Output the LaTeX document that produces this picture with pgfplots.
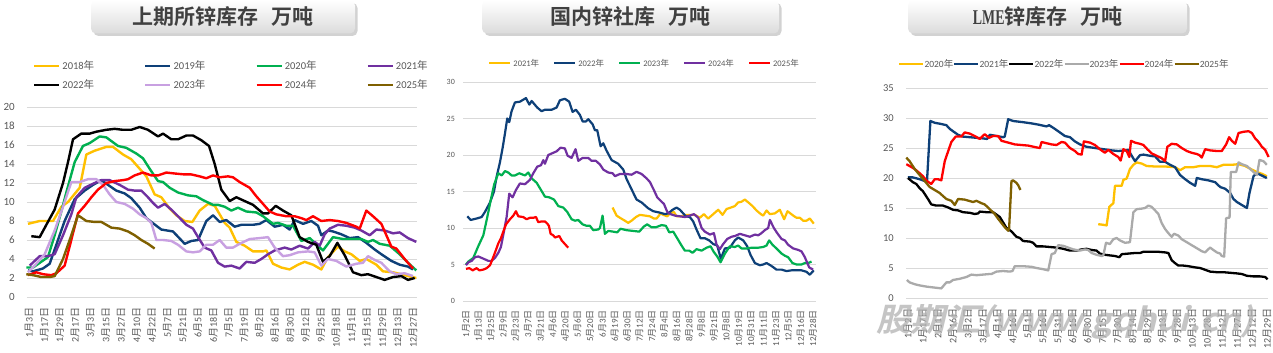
\documentclass[border=0pt]{standalone}
\usepackage{pgfplots}
\pgfplotsset{compat=1.18}
\usepackage{fontspec}
\usepackage{graphicx}
\setmainfont{Carlito}
\newfontfamily\cjk{Noto Sans CJK SC}
\newfontfamily\cjkb{Noto Sans CJK SC Bold}
\newfontfamily\wmfont{Noto Sans CJK SC Bold}[FakeSlant=0.22]
\newfontfamily\serifb{Liberation Serif Bold}
\usetikzlibrary{shadows}
\definecolor{c18}{RGB}{255,192,0}
\definecolor{c19}{RGB}{14,64,120}
\definecolor{c20}{RGB}{0,176,80}
\definecolor{c21}{RGB}{112,48,160}
\definecolor{c23}{RGB}{200,160,225}
\definecolor{c24}{RGB}{255,0,0}
\definecolor{c25}{RGB}{127,96,0}
\definecolor{cgray}{RGB}{170,170,170}
\definecolor{txt}{RGB}{89,89,89}
\definecolor{gridc}{RGB}{217,217,217}
\definecolor{ttl}{RGB}{64,64,64}
\newcommand\md[2]{#1{\cjk 月}#2{\cjk 日}}
\newcommand\yr[1]{#1{\cjk 年}}
\newcommand\fs[1]{\fontsize{#1}{#1}\selectfont}
\pgfplotsset{
  base/.style={
    scale only axis, clip=false, anchor=south west,
    axis line style={draw=none}, tick style={draw=none},
    major tick length=0pt,
    ymajorgrids, grid style={draw=gridc, line width=0.9bp},
    /pgf/number format/assume math mode=true,
    xticklabel style={rotate=90, anchor=east, inner sep=0pt, text=txt},
    yticklabel style={anchor=east, inner sep=0pt, text=txt},
    legend style={draw=none, fill=none, inner sep=0pt, text=txt, cells={anchor=west}},
    every axis plot/.append style={line join=round},
  }
}
\begin{document}
\begin{tikzpicture}
\path[use as bounding box, fill=white] (0,0) rectangle (1273bp,353bp);

% ---------------- Panel 1 ----------------
\begin{axis}[base, at={(27bp,56bp)}, width=390bp, height=190bp,
  xmin=-0.26, xmax=50.52, ymin=0, ymax=20, ytick={0,2,...,20},
  xtick={0,2,...,50},
  xticklabels={\md{1}{3},\md{1}{17},\md{1}{29},\md{2}{17},\md{3}{3},\md{3}{15},\md{3}{27},\md{4}{10},\md{4}{22},\md{5}{7},\md{5}{21},\md{6}{5},\md{6}{18},\md{7}{5},\md{7}{19},\md{8}{2},\md{8}{16},\md{8}{30},\md{9}{12},\md{9}{25},\md{10}{18},\md{11}{1},\md{11}{15},\md{11}{29},\md{12}{13},\md{12}{27}},
  xticklabel style={font=\fs{10bp}}, xticklabel shift=10bp,
  yticklabel style={font=\fs{11bp}}, yticklabel shift=12bp,
  every axis plot/.append style={line width=2.4bp},
  legend columns=4,
  legend image code/.code={\draw[#1] (0bp,0bp) -- (25bp,0bp);},
  legend style={at={(axis description cs:0.015,1.255)}, anchor=north west, font=\fs{10.5bp}, row sep=5bp,
    /tikz/every even column/.append style={column sep=48bp}},
]
\addplot[c18] coordinates {(-0.13,7.7)(1.39,8.0)(3.13,8.0)(4.21,9.5)(5.08,10.0)(6.60,11.5)(7.47,15.0)(8.55,15.4)(10.07,15.8)(10.94,15.8)(12.24,15.0)(13.32,14.5)(14.41,13.5)(15.28,12.7)(16.36,10.8)(17.23,10.5)(18.32,9.3)(19.18,8.6)(20.27,8.0)(21.27,7.9)(22.22,9.1)(23.31,9.8)(24.18,9.6)(25.48,7.8)(26.13,7.3)(27.00,5.8)(28.08,5.4)(29.17,4.8)(30.47,4.8)(30.90,4.9)(31.77,3.5)(32.86,3.1)(33.94,2.9)(35.03,3.4)(35.89,3.7)(36.98,3.4)(38.06,2.9)(38.93,4.2)(40.23,5.3)(41.10,4.8)(41.97,4.5)(43.06,3.8)(43.92,4.0)(45.23,3.4)(46.09,2.7)(47.40,2.6)(48.48,2.4)(49.35,2.2)(50.43,2.0)};
\addlegendentry{\yr{2018}}
\addplot[c19] coordinates {(-0.13,2.8)(0.52,2.7)(1.82,3.0)(2.69,3.5)(3.56,5.5)(4.64,8.0)(5.95,10.3)(7.25,11.2)(8.33,11.8)(9.42,12.3)(10.29,11.8)(11.37,11.2)(12.46,10.9)(13.32,10.4)(14.41,9.4)(15.28,8.3)(16.58,7.5)(17.23,7.1)(18.75,6.9)(20.27,5.6)(21.14,5.9)(22.01,6.0)(23.09,8.0)(23.96,8.6)(24.83,7.9)(25.69,8.1)(26.78,7.4)(27.65,7.6)(29.17,7.6)(30.03,7.7)(30.90,8.1)(31.99,7.4)(33.07,7.6)(33.94,7.1)(34.59,8.1)(35.68,7.7)(36.76,8.0)(37.63,7.5)(38.06,6.5)(38.93,7.0)(39.58,6.9)(40.67,6.6)(41.75,6.2)(42.84,6.3)(43.92,5.7)(45.01,5.0)(45.88,4.5)(47.18,3.8)(48.26,3.4)(49.35,3.2)(50.00,2.9)};
\addlegendentry{\yr{2019}}
\addplot[c20] coordinates {(-0.35,3.1)(0.52,3.1)(2.47,4.2)(3.34,6.5)(4.21,9.0)(4.86,11.0)(5.95,14.2)(7.03,15.9)(7.90,16.2)(9.20,16.9)(10.07,16.8)(11.59,15.9)(12.67,15.7)(13.98,15.1)(14.84,14.6)(15.71,13.5)(16.80,12.2)(17.45,12.1)(18.32,11.5)(19.40,11.0)(20.70,10.7)(21.79,10.6)(22.66,10.2)(23.96,9.7)(24.61,9.7)(25.48,9.5)(26.35,9.1)(27.21,9.4)(28.30,9.0)(29.60,8.9)(30.47,8.5)(31.77,7.7)(32.42,7.8)(33.51,7.5)(34.38,7.5)(35.46,5.9)(36.55,6.2)(38.28,4.9)(39.58,6.3)(40.89,6.1)(42.19,6.1)(43.27,6.1)(44.14,5.8)(44.79,6.0)(45.66,5.6)(46.96,5.4)(48.26,4.5)(49.35,3.6)(50.43,2.8)};
\addlegendentry{\yr{2020}}
\addplot[c21] coordinates {(0.09,3.3)(1.39,4.3)(2.47,4.3)(3.34,4.5)(4.43,6.5)(5.51,8.7)(6.16,10.5)(7.25,11.5)(8.55,12.0)(9.42,12.3)(10.50,12.3)(11.81,11.8)(12.89,11.3)(13.76,11.2)(14.63,11.2)(15.49,10.5)(16.15,9.9)(16.80,9.4)(17.66,9.8)(18.53,9.2)(19.40,8.5)(20.49,7.6)(21.35,7.2)(22.01,6.3)(22.87,5.2)(23.74,4.9)(24.61,3.6)(25.48,3.2)(26.35,3.3)(27.43,3.0)(28.30,3.7)(29.38,3.6)(30.25,4.0)(31.12,4.5)(31.99,4.9)(33.29,5.2)(34.16,5.0)(35.24,5.4)(36.33,5.1)(37.20,5.8)(37.85,5.4)(38.50,6.6)(39.15,7.2)(40.23,7.6)(41.32,7.5)(42.40,7.3)(43.27,7.0)(44.36,6.5)(45.23,7.1)(46.31,7.0)(47.40,6.7)(48.26,6.8)(49.35,6.2)(50.43,5.8)};
\addlegendentry{\yr{2021}}
\addplot[black] coordinates {(0.30,6.4)(1.39,6.3)(2.26,7.6)(3.34,9.2)(4.43,12.0)(5.08,14.2)(5.73,16.6)(6.81,17.2)(7.90,17.2)(8.77,17.4)(10.07,17.6)(11.15,17.7)(12.24,17.6)(13.32,17.6)(14.41,17.9)(15.49,17.6)(16.80,16.9)(17.45,17.2)(18.53,16.6)(19.40,16.6)(20.49,17.0)(21.35,17.0)(22.44,16.5)(23.44,15.9)(24.18,14.0)(25.04,11.3)(26.13,10.1)(27.00,10.5)(28.08,10.1)(29.17,9.7)(30.47,8.8)(31.12,8.8)(32.12,9.6)(33.07,9.1)(34.16,8.6)(35.24,6.3)(36.33,5.8)(37.41,5.5)(38.28,3.7)(39.15,4.3)(40.15,5.7)(41.10,4.4)(42.19,2.6)(43.27,2.3)(44.14,2.4)(45.23,2.1)(46.31,1.8)(47.40,2.1)(48.48,2.2)(49.35,1.8)(50.22,2.0)};
\addlegendentry{\yr{2022}}
\addplot[c23] coordinates {(-0.13,2.6)(0.95,3.5)(2.04,4.5)(3.34,7.0)(4.43,9.5)(5.51,12.1)(6.60,12.1)(7.68,12.4)(8.77,12.4)(9.64,11.8)(10.50,10.8)(11.37,10.0)(12.46,9.8)(13.54,9.3)(14.41,8.7)(15.28,8.3)(15.93,7.8)(16.58,6.0)(17.45,6.0)(18.53,5.9)(19.40,5.5)(20.49,4.8)(21.35,4.7)(22.22,4.8)(23.09,5.5)(23.96,5.5)(24.83,6.0)(25.69,5.2)(26.56,5.2)(27.43,5.6)(28.73,6.1)(30.03,6.2)(31.12,6.3)(31.99,5.2)(33.07,4.3)(33.94,4.4)(35.03,4.7)(36.33,4.8)(37.20,4.7)(38.06,3.3)(38.93,4.0)(40.02,3.8)(41.32,3.2)(42.62,3.5)(43.49,3.6)(44.14,4.3)(45.01,3.9)(45.88,3.6)(46.96,2.7)(47.83,2.4)(48.91,2.5)(50.00,2.2)};
\addlegendentry{\yr{2023}}
\addplot[c24] coordinates {(-0.13,2.3)(0.95,2.6)(1.82,2.4)(2.91,2.3)(3.56,2.5)(4.64,3.3)(5.51,6.0)(6.38,8.8)(7.25,9.6)(8.12,10.5)(8.98,11.3)(10.07,12.0)(11.15,12.2)(12.24,12.3)(12.89,12.4)(13.76,12.8)(14.84,13.1)(15.93,12.8)(16.80,12.8)(17.88,13.1)(18.97,13.0)(20.27,12.9)(21.14,12.9)(22.22,12.7)(23.09,12.5)(23.96,12.8)(24.83,12.6)(25.91,12.7)(26.56,12.6)(27.43,12.1)(28.73,11.5)(29.60,10.6)(30.47,9.8)(31.34,9.0)(32.20,8.7)(33.51,8.5)(34.59,8.5)(35.46,8.3)(36.11,8.1)(36.98,8.5)(38.06,8.0)(39.15,8.1)(40.23,8.0)(41.32,7.8)(42.62,7.4)(43.06,7.2)(43.92,9.1)(44.79,8.5)(45.88,7.7)(47.18,5.3)(47.83,5.1)(48.91,4.0)(50.00,3.0)};
\addlegendentry{\yr{2024}}
\addplot[c25] coordinates {(-0.35,2.4)(0.52,2.3)(1.61,2.1)(2.69,2.1)(3.34,2.2)(4.43,4.0)(5.51,6.5)(6.38,8.6)(7.47,8.0)(8.55,7.9)(9.42,7.9)(10.72,7.3)(11.81,7.2)(12.89,6.9)(13.76,6.5)(14.63,6.0)(15.49,5.6)(16.36,5.1)};
\addlegendentry{\yr{2025}}
\end{axis}

% ---------------- Panel 2 ----------------
\begin{axis}[base, at={(463bp,52bp)}, width=353bp, height=219bp,
  xmin=-0.24, xmax=28.24, ymin=0, ymax=30, ytick={0,5,...,30},
  xtick={0,...,28},
  xticklabels={\md{1}{2},\md{1}{13},\md{1}{25},\md{2}{9},\md{2}{23},\md{3}{7},\md{3}{21},\md{4}{6},\md{4}{20},\md{5}{6},\md{5}{20},\md{6}{3},\md{6}{19},\md{6}{30},\md{7}{12},\md{7}{24},\md{8}{4},\md{8}{16},\md{8}{28},\md{9}{8},\md{9}{21},\md{10}{8},\md{10}{19},\md{10}{31},\md{11}{11},\md{11}{23},\md{12}{5},\md{12}{16},\md{12}{28}},
  xticklabel style={font=\fs{9bp}}, xticklabel shift=9bp,
  yticklabel style={font=\fs{8bp}}, yticklabel shift=8bp,
  every axis plot/.append style={line width=2.2bp},
  legend columns=5,
  legend image code/.code={\draw[#1] (0bp,0bp) -- (21bp,0bp);},
  legend style={at={(axis description cs:0.071,1.115)}, anchor=north west, font=\fs{8.5bp},
    /tikz/every even column/.append style={column sep=12bp}},
]
\addplot[c18] coordinates {(11.83,12.8)(12.15,11.7)(12.42,11.4)(12.82,11.0)(13.09,10.7)(13.36,11.0)(13.71,11.5)(14.03,11.8)(14.44,11.7)(14.84,11.6)(15.16,11.3)(15.38,11.3)(15.70,12.0)(15.91,11.8)(16.24,11.6)(16.45,12.0)(16.77,12.2)(16.99,11.6)(17.39,11.6)(17.74,11.8)(18.06,11.8)(18.47,11.8)(18.87,11.4)(19.19,11.9)(19.54,11.3)(19.95,11.9)(20.35,12.5)(20.70,11.8)(21.02,12.6)(21.37,12.8)(21.69,13.0)(21.96,13.5)(22.23,13.6)(22.50,13.9)(22.85,13.4)(23.12,13.0)(23.44,12.4)(23.79,11.9)(23.98,11.7)(24.25,12.4)(24.52,11.9)(24.92,12.0)(25.32,12.5)(25.67,11.2)(25.94,12.3)(26.40,11.7)(26.67,11.4)(26.94,11.4)(27.20,11.0)(27.47,11.0)(27.74,11.3)(28.06,10.6)};
\addlegendentry{\yr{2021}}
\addplot[c19] coordinates {(0.11,11.6)(0.38,11.1)(0.86,11.3)(1.26,11.5)(1.53,12.2)(1.94,13.5)(2.26,15.0)(2.47,17.0)(2.74,19.0)(2.96,21.0)(3.15,23.0)(3.33,25.0)(3.49,24.5)(3.68,26.0)(3.95,27.2)(4.35,27.3)(4.84,27.8)(5.11,26.9)(5.30,27.4)(5.75,26.5)(6.10,26.0)(6.37,26.2)(6.91,26.2)(7.31,26.5)(7.58,27.5)(7.98,27.7)(8.33,27.3)(8.60,25.9)(8.87,26.2)(9.19,25.5)(9.41,24.6)(9.68,24.6)(9.87,24.9)(10.22,24.2)(10.40,23.4)(10.59,23.4)(10.86,21.2)(11.08,21.6)(11.34,20.6)(11.75,19.3)(12.28,18.8)(12.69,18.0)(12.96,16.7)(13.36,15.3)(13.76,13.9)(14.17,13.5)(14.70,12.7)(15.11,12.3)(15.65,12.1)(16.05,11.9)(16.32,12.0)(16.67,12.5)(16.99,12.8)(17.26,12.5)(17.74,11.6)(18.06,11.5)(18.33,10.9)(18.60,9.8)(18.92,8.6)(19.27,8.6)(19.62,8.3)(19.95,7.8)(20.27,7.6)(20.56,5.8)(20.89,7.2)(21.29,7.3)(21.69,8.3)(21.96,8.7)(22.37,8.3)(22.69,7.5)(22.96,6.3)(23.31,5.2)(23.71,4.9)(23.98,5.0)(24.25,5.2)(24.65,4.8)(25.05,4.3)(25.46,4.3)(25.86,4.1)(26.26,4.2)(26.67,4.2)(27.07,4.2)(27.47,4.0)(27.74,3.6)(28.06,4.2)};
\addlegendentry{\yr{2022}}
\addplot[c20] coordinates {(0,5.0)(0.19,5.4)(0.59,5.9)(0.99,7.5)(1.40,9.0)(1.72,11.5)(2.02,14.0)(2.28,16.0)(2.61,17.5)(2.88,17.2)(3.15,17.8)(3.41,17.6)(3.68,17.2)(3.95,17.2)(4.30,17.5)(4.76,17.2)(5.03,17.6)(5.30,16.8)(5.70,16.2)(6.02,15.3)(6.37,14.3)(6.72,14.2)(7.10,13.9)(7.45,13.0)(7.85,12.8)(8.17,12.2)(8.52,11.2)(8.79,11.0)(9.06,11.1)(9.41,10.5)(9.73,10.3)(10.00,10.3)(10.27,9.7)(10.67,9.8)(10.81,10.0)(11.02,11.7)(11.21,9.2)(11.48,9.6)(11.88,9.5)(12.20,9.4)(12.47,9.9)(12.96,9.7)(13.49,9.6)(13.98,9.5)(14.35,10.2)(14.62,10.5)(14.97,10.1)(15.32,10.1)(15.78,10.4)(16.13,10.3)(16.40,9.4)(16.72,9.5)(17.04,8.6)(17.39,7.6)(17.66,6.9)(18.01,6.9)(18.28,6.6)(18.60,7.1)(19.01,6.9)(19.41,7.3)(19.73,7.5)(20.00,6.7)(20.27,6.1)(20.54,5.3)(20.89,6.5)(21.29,7.5)(21.69,7.4)(21.96,7.6)(22.23,7.2)(22.63,7.2)(23.04,7.3)(23.58,7.3)(23.98,7.4)(24.25,7.6)(24.46,8.3)(24.73,7.7)(25.05,7.2)(25.46,6.5)(25.73,6.2)(25.99,6.0)(26.34,5.2)(26.67,5.0)(27.07,5.0)(27.34,5.2)(27.61,5.2)(27.88,5.4)};
\addlegendentry{\yr{2023}}
\addplot[c21] coordinates {(0,4.9)(0.19,5.3)(0.46,5.5)(0.73,6.0)(0.99,6.1)(1.40,5.8)(1.80,5.5)(2.07,5.5)(2.34,5.9)(2.61,6.6)(2.82,7.4)(3.06,9.5)(3.28,11.5)(3.49,14.7)(3.76,14.2)(4.03,15.2)(4.35,16.1)(4.76,16.0)(5.16,16.6)(5.43,17.5)(5.75,18.4)(6.05,18.6)(6.24,19.3)(6.37,18.8)(6.64,20.0)(7.04,20.3)(7.31,20.5)(7.63,21.0)(7.98,20.9)(8.20,19.9)(8.52,19.6)(8.84,20.8)(9.06,19.2)(9.41,19.6)(9.87,19.6)(10.13,19.2)(10.48,19.2)(10.81,18.7)(11.08,18.0)(11.48,17.6)(11.83,17.5)(12.02,17.1)(12.42,17.4)(12.96,17.4)(13.36,17.3)(13.76,17.7)(14.17,17.4)(14.57,16.8)(14.84,16.3)(15.16,15.2)(15.43,14.2)(15.78,13.6)(15.97,13.3)(16.24,12.2)(16.51,11.9)(16.85,11.7)(17.26,11.6)(17.66,11.5)(18.06,11.7)(18.39,11.9)(18.74,11.4)(19.01,10.0)(19.27,9.5)(19.68,9.1)(20.00,9.3)(20.22,7.7)(20.48,7.1)(20.75,7.8)(21.08,8.5)(21.42,8.8)(21.69,8.9)(22.10,9.2)(22.50,9.0)(22.90,8.8)(23.31,9.1)(23.58,9.0)(23.84,9.3)(24.11,9.7)(24.38,10.0)(24.52,11.1)(24.84,10.0)(25.11,9.3)(25.46,8.5)(25.73,8.3)(25.99,7.7)(26.40,7.2)(26.80,7.0)(27.07,6.8)(27.34,6.0)(27.69,4.6)(28.01,4.3)};
\addlegendentry{\yr{2024}}
\addplot[c24] coordinates {(0,4.4)(0.27,4.5)(0.54,4.2)(0.86,4.5)(1.08,4.2)(1.40,4.3)(1.67,4.5)(1.94,4.9)(2.20,6.0)(2.42,7.0)(2.61,7.9)(2.82,8.6)(3.01,9.5)(3.23,10.5)(3.55,11.2)(3.82,11.7)(4.03,12.3)(4.22,11.6)(4.62,11.5)(4.89,11.2)(5.16,11.4)(5.43,11.4)(5.65,11.5)(5.83,10.8)(6.10,10.9)(6.37,10.9)(6.56,10.6)(6.69,10.3)(6.83,9.2)(7.04,9.0)(7.18,8.7)(7.53,8.9)(7.72,8.3)(7.93,7.9)(8.25,7.3)};
\addlegendentry{\yr{2025}}
\end{axis}

% ---------------- Panel 3 ----------------
\begin{axis}[base, at={(906bp,55bp)}, width=362bp, height=210bp,
  xmin=-0.13, xmax=24.07, ymin=0, ymax=35, ytick={0,5,...,35},
  xtick={0,...,24},
  xticklabels={\md{1}{2},\md{1}{17},\md{2}{1},\md{2}{16},\md{3}{2},\md{3}{17},\md{4}{1},\md{4}{16},\md{5}{1},\md{5}{16},\md{5}{31},\md{6}{15},\md{6}{30},\md{7}{15},\md{7}{30},\md{8}{14},\md{8}{29},\md{9}{13},\md{9}{28},\md{10}{13},\md{10}{28},\md{11}{12},\md{11}{27},\md{12}{12},\md{12}{29}},
  xticklabel style={font=\fs{10bp}}, xticklabel shift=10bp,
  yticklabel style={font=\fs{10.5bp}}, yticklabel shift=12bp,
  every axis plot/.append style={line width=2.3bp},
  legend columns=6,
  legend image code/.code={\draw[#1] (0bp,0bp) -- (24bp,0bp);},
  legend style={at={(axis description cs:-0.022,1.148)}, anchor=north west, font=\fs{9.5bp},
    /tikz/every odd column/.append style={column sep=-2bp},
    /tikz/every even column/.append style={column sep=-2bp}},
]
\addplot[c18] coordinates {(12.72,12.3)(13.06,12.2)(13.28,12.1)(13.46,15.2)(13.73,15.8)(13.84,18.7)(14.29,18.7)(14.40,19.7)(14.62,19.9)(14.84,21.5)(15.07,22.2)(15.29,22.6)(15.63,22.4)(15.96,22.0)(16.63,21.9)(17.30,21.9)(17.86,21.8)(18.19,21.3)(18.53,21.8)(19.08,21.8)(19.53,22.0)(20.20,22.0)(20.65,21.8)(21.09,22.2)(21.65,22.2)(22.10,22.3)(22.54,22.0)(22.99,21.4)(23.33,21.0)(23.66,20.7)(23.99,20.3)};
\addlegendentry{\yr{2020}}
\addplot[c19] coordinates {(0,20.1)(0.33,20.1)(0.78,19.8)(1.12,19.5)(1.27,19.3)(1.50,29.5)(1.79,29.2)(2.23,29.0)(2.57,28.8)(2.79,28.2)(3.01,27.8)(3.35,27.2)(3.68,26.9)(4.13,26.8)(4.58,26.7)(5.02,26.6)(5.29,26.5)(5.47,27.2)(5.92,27.0)(6.36,26.8)(6.47,26.9)(6.70,29.8)(7.03,29.5)(7.70,29.3)(8.26,29.1)(8.71,28.9)(9.26,28.6)(9.44,28.8)(9.75,28.3)(10.04,27.8)(10.49,27.0)(10.83,26.8)(11.16,26.1)(11.50,25.6)(11.94,25.2)(12.50,25.0)(13.06,24.8)(13.62,24.6)(14.06,24.5)(14.51,24.6)(14.73,24.7)(14.96,23.7)(15.18,22.8)(15.51,23.8)(15.74,23.9)(16.18,23.7)(16.52,23.6)(16.85,22.7)(17.19,22.7)(17.52,22.2)(17.86,21.8)(18.19,20.5)(18.53,19.8)(18.86,19.2)(19.20,18.7)(19.31,20.0)(19.64,19.8)(20.09,19.6)(20.54,19.3)(20.87,18.5)(21.21,18.2)(21.54,17.5)(21.76,16.5)(21.99,16.0)(22.32,15.5)(22.66,15.0)(22.83,17.5)(23.10,20.3)(23.33,20.8)(23.66,20.4)(23.99,20.0)};
\addlegendentry{\yr{2021}}
\addplot[black] coordinates {(0,20.0)(0.33,19.3)(0.56,19.0)(0.78,18.3)(1.00,17.8)(1.34,16.5)(1.56,15.6)(1.90,15.4)(2.34,15.4)(2.68,15.1)(3.01,14.7)(3.35,14.6)(3.68,14.3)(4.13,14.2)(4.46,14.0)(4.69,14.1)(4.80,14.4)(5.25,14.3)(5.69,14.3)(5.92,13.9)(6.14,13.5)(6.36,12.6)(6.58,11.7)(6.92,11.1)(7.25,10.2)(7.48,10.0)(7.70,9.5)(8.15,9.4)(8.37,9.2)(8.59,8.6)(9.04,8.6)(9.49,8.5)(9.93,8.4)(10.38,8.2)(10.83,7.9)(11.27,7.9)(11.61,8.1)(11.94,8.2)(12.28,8.0)(12.61,7.9)(12.83,7.4)(13.17,7.2)(13.50,7.1)(13.84,7.0)(14.13,6.8)(14.29,7.3)(14.73,7.4)(15.18,7.5)(15.51,7.5)(15.74,7.7)(16.18,7.7)(16.74,7.7)(17.19,7.6)(17.41,7.5)(17.63,6.3)(17.86,5.8)(18.08,5.4)(18.42,5.4)(18.75,5.3)(19.20,5.1)(19.53,5.0)(19.87,4.7)(20.20,4.4)(20.65,4.3)(21.09,4.3)(21.54,4.2)(21.99,4.1)(22.32,4.0)(22.66,3.7)(23.10,3.6)(23.55,3.6)(23.88,3.5)(24.04,3.1)};
\addlegendentry{\yr{2022}}
\addplot[cgray] coordinates {(-0.07,3.0)(0.11,2.6)(0.45,2.3)(0.78,2.1)(1.23,1.9)(1.56,1.8)(1.90,1.7)(2.23,1.6)(2.57,2.6)(2.79,2.6)(3.01,3.0)(3.46,3.2)(3.91,3.5)(4.24,3.9)(4.58,3.8)(5.02,3.9)(5.47,4.0)(5.58,4.0)(5.92,4.4)(6.36,4.5)(6.81,4.4)(6.99,4.5)(7.14,5.3)(7.70,5.3)(8.26,5.2)(8.59,5.0)(9.04,4.8)(9.38,4.6)(9.60,7.3)(9.82,7.5)(10.04,8.8)(10.38,8.7)(10.60,8.5)(11.05,8.1)(11.50,7.9)(11.83,8.1)(12.05,8.0)(12.28,7.5)(12.61,7.2)(12.95,7.0)(13.06,7.1)(13.24,9.2)(13.50,9.0)(13.73,9.8)(13.95,10.0)(14.17,9.6)(14.51,9.2)(14.84,9.3)(15.07,14.3)(15.29,14.8)(15.63,14.9)(15.85,15.0)(16.07,15.4)(16.29,15.2)(16.52,14.6)(16.74,14.0)(16.96,12.5)(17.19,11.5)(17.41,10.8)(17.63,10.2)(17.79,10.7)(18.08,10.4)(18.30,9.8)(18.64,9.3)(18.97,8.8)(19.31,8.3)(19.64,7.8)(19.87,7.6)(19.98,7.9)(20.20,8.4)(20.42,8.0)(20.65,7.6)(20.87,7.4)(20.98,7.0)(21.14,6.9)(21.27,13.3)(21.50,13.4)(21.58,21.0)(21.94,21.0)(22.10,22.6)(22.32,22.3)(22.66,22.0)(22.88,21.5)(23.10,21.0)(23.33,20.5)(23.50,23.0)(23.77,22.8)(23.99,22.2)};
\addlegendentry{\yr{2023}}
\addplot[c24] coordinates {(-0.11,22.3)(0.11,22.0)(0.45,21.5)(0.78,20.8)(1.00,20.3)(1.27,19.5)(1.56,19.0)(1.79,19.8)(2.01,19.8)(2.23,19.6)(2.46,22.8)(2.61,23.9)(2.90,26.0)(3.19,26.9)(3.57,26.9)(3.79,27.6)(4.13,27.4)(4.46,27.0)(4.80,26.5)(5.13,27.3)(5.42,26.7)(5.69,27.0)(6.03,27.0)(6.25,26.2)(6.70,25.9)(7.14,25.6)(7.59,25.5)(8.04,25.4)(8.59,25.1)(8.82,25.0)(8.93,26.0)(9.26,25.8)(9.60,25.6)(9.93,25.5)(10.27,26.0)(10.49,25.9)(10.83,25.0)(11.16,24.5)(11.38,24.0)(11.61,23.9)(11.76,26.1)(12.17,25.9)(12.50,25.5)(12.83,24.8)(13.17,24.2)(13.39,24.7)(13.73,24.0)(14.06,23.5)(14.22,22.9)(14.40,24.8)(14.62,24.5)(14.80,23.5)(14.91,26.2)(15.18,25.9)(15.51,25.7)(15.74,25.5)(16.00,24.8)(16.29,24.1)(16.63,23.7)(16.96,23.3)(17.19,22.8)(17.34,25.2)(17.63,25.7)(17.97,25.6)(18.30,25.0)(18.64,24.5)(18.97,24.2)(19.31,24.0)(19.49,23.8)(19.64,23.4)(19.87,24.8)(20.20,24.6)(20.65,24.5)(20.98,24.5)(21.27,25.6)(21.47,26.8)(21.65,26.2)(21.88,25.7)(22.10,27.5)(22.43,27.7)(22.77,27.8)(22.99,27.5)(23.21,26.6)(23.44,26.0)(23.66,25.2)(23.88,24.7)(24.11,23.5)};
\addlegendentry{\yr{2024}}
\addplot[c25] coordinates {(-0.11,23.4)(0.11,22.8)(0.45,21.5)(0.78,20.5)(1.12,19.5)(1.45,18.5)(1.79,18.0)(2.12,17.5)(2.34,17.0)(2.57,16.5)(2.90,16.2)(3.13,15.5)(3.35,16.5)(3.79,16.4)(4.35,16.0)(4.58,16.2)(4.91,15.8)(5.13,15.6)(5.47,14.8)(5.80,14.0)(6.03,13.2)(6.25,12.5)(6.47,11.8)(6.70,11.2)(6.76,11.5)(6.92,19.5)(7.03,19.6)(7.25,19.2)(7.37,18.8)(7.52,18.0)};
\addlegendentry{\yr{2025}}
\end{axis}

% ---------------- Titles ----------------
\tikzset{ttlbox/.style={rounded corners=5bp, top color=white, bottom color=black!14,
  drop shadow={shadow xshift=2.5bp, shadow yshift=-2.5bp, opacity=0.35},
  minimum height=33bp, inner sep=0pt, text=ttl, font=\cjkb\fs{21bp}}}
\node[ttlbox, minimum width=264bp] at (223bp,336bp) {上期所锌库存\hspace{0.6em}万吨};
\node[ttlbox, minimum width=297bp] at (630.5bp,336bp) {国内锌社库\hspace{0.6em}万吨};
\node[ttlbox, minimum width=279bp] at (1047.5bp,336bp) {\scalebox{0.66}[1]{\serifb LME}锌库存\hspace{0.6em}万吨};

% ---------------- Watermark ----------------
\node[text=black!30, opacity=0.75, inner sep=0pt] at (1065bp,31bp)
  {\resizebox{378bp}{27bp}{\wmfont 股期汇(www.gqhui.cn)}};
\end{tikzpicture}
\end{document}
